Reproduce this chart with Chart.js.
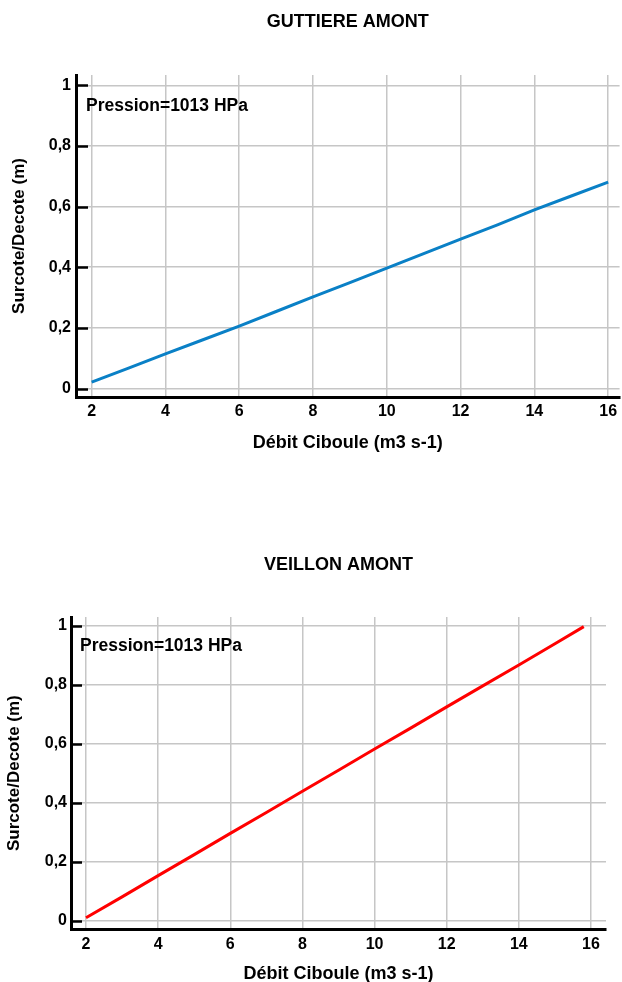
<!DOCTYPE html>
<html>
<head>
<meta charset="utf-8">
<script src="https://cdn.jsdelivr.net/npm/chart.js@4.4.0/dist/chart.umd.min.js"></script>
<style>
  html, body { margin: 0; padding: 0; background: #fff; width: 622px; height: 982px; overflow: hidden; }
  canvas { position: absolute; left: 0; display: block; }
  #guttiere { top: 0; }
  #veillon { top: 490px; }
</style>
</head>
<body>
<canvas id="guttiere" width="622" height="490"></canvas>
<canvas id="veillon" width="622" height="510"></canvas>
<script>
// Débit de la Ciboule (m3/s) et surcote/décote résultante (m)
const debitGuttiere   = [2, 3, 4, 5, 6, 7, 8, 9, 10, 11, 12, 13, 14, 15, 16];
const surcoteGuttiere = [0.021, 0.067, 0.114, 0.160, 0.206, 0.254, 0.302, 0.349, 0.397, 0.445, 0.493, 0.540, 0.589, 0.635, 0.681];

const debitVeillon   = [2, 3, 4, 5, 6, 7, 8, 9, 10, 11, 12, 13, 14, 15, 15.8];
const surcoteVeillon = [0.011, 0.082, 0.154, 0.225, 0.297, 0.368, 0.440, 0.511, 0.583, 0.654, 0.726, 0.797, 0.868, 0.940, 0.998];

// Graduations des axes
const xTicks = [2, 4, 6, 8, 10, 12, 14, 16];
const yTicks = [0, 0.2, 0.4, 0.6, 0.8, 1];

const titreX = 'Débit Ciboule (m3 s-1)';
const titreY = 'Surcote/Decote (m)';
const pression = 'Pression=1013 HPa';

const FONT = '"Liberation Sans", Arial, Helvetica, sans-serif';
Chart.defaults.font.family = FONT;
Chart.defaults.font.weight = 'bold';
Chart.defaults.color = '#000';

const fmt = v => String(+v.toFixed(1)).replace('.', ',');

// Petits traits de graduation noirs tournés vers l'intérieur + mention de pression
const decorPlugin = {
  id: 'decor',
  afterDraw(chart, args, opts) {
    const { ctx, chartArea } = chart;
    const y = chart.scales.y;
    ctx.save();
    ctx.strokeStyle = '#000';
    ctx.lineWidth = 2.5;
    y.ticks.forEach(t => {
      const py = Math.round(y.getPixelForValue(t.value)) + 0.5;
      ctx.beginPath();
      ctx.moveTo(chartArea.left, py);
      ctx.lineTo(chartArea.left + opts.tickLen, py);
      ctx.stroke();
    });
    ctx.fillStyle = '#000';
    ctx.font = 'bold 17.5px ' + FONT;
    ctx.textAlign = 'left';
    ctx.textBaseline = 'middle';
    ctx.fillText(pression, chartArea.left + opts.noteDx, chartArea.top + opts.noteDy);
    ctx.restore();
  }
};

function makeChart(id, titre, debit, surcote, couleur, g) {
  const points = debit.map((x, i) => ({ x, y: surcote[i] }));
  return new Chart(document.getElementById(id), {
    type: 'line',
    data: {
      datasets: [{
        data: points,
        borderColor: couleur,
        backgroundColor: couleur,
        borderWidth: 3,
        pointRadius: 0,
        tension: 0,
        fill: false
      }]
    },
    options: {
      responsive: false,
      animation: false,
      devicePixelRatio: 1,
      layout: { padding: { left: 0, right: g.padRight, top: 0, bottom: 0 } },
      plugins: {
        legend: { display: false },
        tooltip: { enabled: false },
        title: {
          display: true,
          text: titre,
          fullSize: false,
          font: { size: 18, weight: 'bold' },
          color: '#000',
          padding: { top: g.titleTop, bottom: g.titleBottom }
        },
        decor: { tickLen: g.tickLen, noteDx: g.noteDx, noteDy: g.noteDy }
      },
      scales: {
        x: {
          type: 'linear',
          min: g.xMin, max: g.xMax,
          afterBuildTicks: s => { s.ticks = xTicks.map(v => ({ value: v })); },
          afterFit: s => { s.height = g.xHeight; },
          grid: { color: '#c6c6c6', lineWidth: 1.5, drawTicks: false },
          border: { display: true, color: '#000', width: 3 },
          ticks: { padding: g.xPad, font: { size: 16, weight: 'bold' }, color: '#000', maxRotation: 0 },
          title: {
            display: true, text: titreX, color: '#000',
            font: { size: 18, weight: 'bold' },
            padding: { top: 0, bottom: g.xTitleBottom }
          }
        },
        y: {
          type: 'linear',
          min: g.yMin, max: g.yMax,
          afterBuildTicks: s => { s.ticks = yTicks.map(v => ({ value: v })); },
          afterFit: s => { s.width = g.yWidth; },
          grid: { color: '#c6c6c6', lineWidth: 1.5, drawTicks: false },
          border: { display: true, color: '#000', width: 3 },
          ticks: { padding: g.yPad, font: { size: 16, weight: 'bold' }, color: '#000', callback: v => fmt(v) },
          title: {
            display: true, text: titreY, color: '#000',
            font: { size: 17, weight: 'bold' },
            padding: { top: g.yTitleTop, bottom: 0 }
          }
        }
      }
    },
    plugins: [decorPlugin]
  });
}

makeChart('guttiere', 'GUTTIERE AMONT', debitGuttiere, surcoteGuttiere, '#0a80c6', {
  padRight: 0, titleTop: 10.9, titleBottom: 42.5,
  xMin: 1.576, xMax: 16.31, yMin: -0.028, yMax: 1.034,
  xHeight: 93, xPad: 4.9, xTitleBottom: 36.2,
  yWidth: 76, yPad: 5, yTitleTop: 9,
  tickLen: 12, noteDx: 10, noteDy: 31
});

makeChart('veillon', 'VEILLON AMONT', debitVeillon, surcoteVeillon, '#ff0000', {
  padRight: 16, titleTop: 63.9, titleBottom: 41.5,
  xMin: 1.584, xMax: 16.416, yMin: -0.028, yMax: 1.0305,
  xHeight: 70.7, xPad: 5.4, xTitleBottom: 15.4,
  yWidth: 71, yPad: 4, yTitleTop: 4.5,
  tickLen: 11, noteDx: 9, noteDy: 29
});
</script>
</body>
</html>
